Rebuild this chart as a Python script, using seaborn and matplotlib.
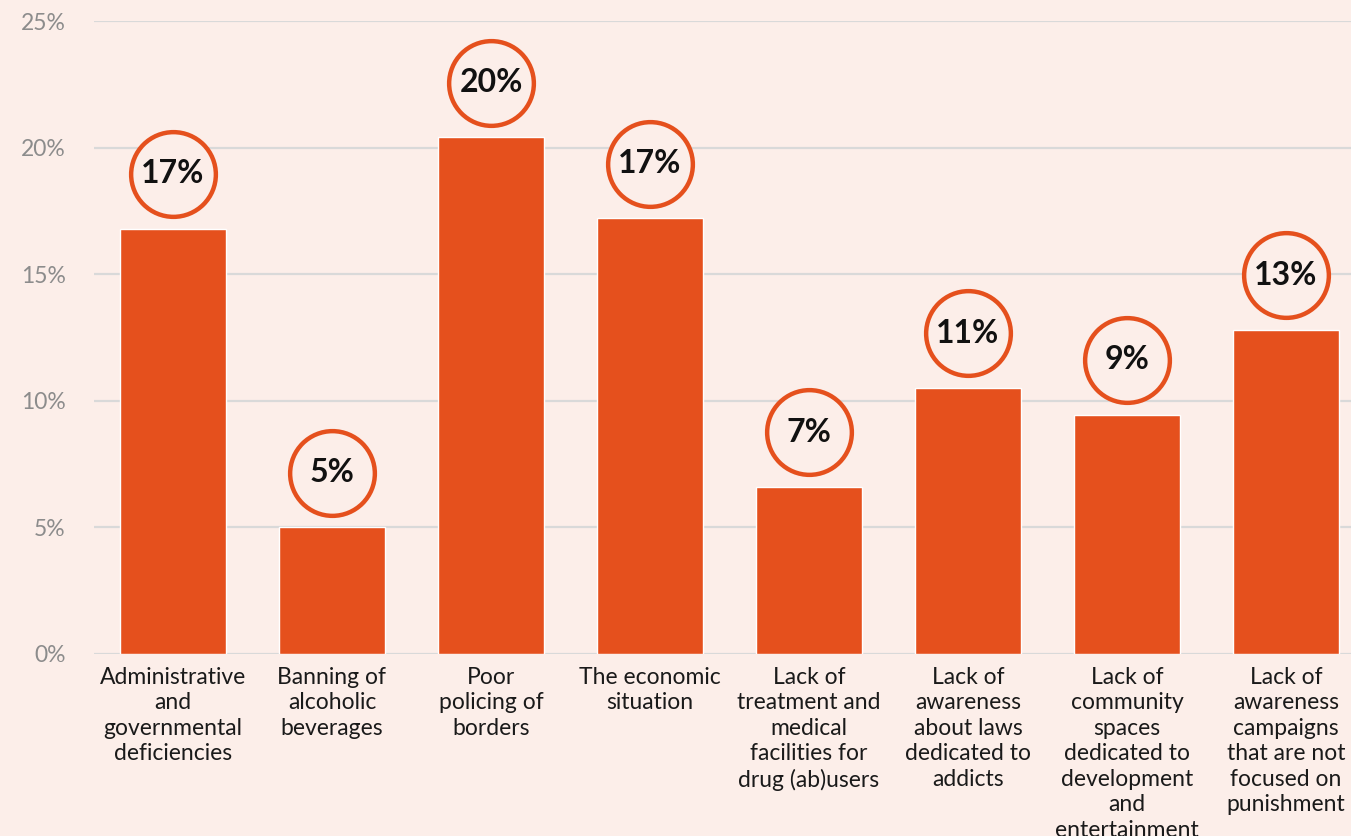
import matplotlib
matplotlib.use("Agg")
import matplotlib.pyplot as plt
import matplotlib.transforms as mtransforms
import seaborn as sns
import pandas as pd

categories = [
    "Administrative\nand\ngovernmental\ndeficiencies",
    "Banning of\nalcoholic\nbeverages",
    "Poor\npolicing of\nborders",
    "The economic\nsituation",
    "Lack of\ntreatment and\nmedical\nfacilities for\ndrug (ab)users",
    "Lack of\nawareness\nabout laws\ndedicated to\naddicts",
    "Lack of\ncommunity\nspaces\ndedicated to\ndevelopment\nand\nentertainment",
    "Lack of\nawareness\ncampaigns\nthat are not\nfocused on\npunishment",
]
values = [16.8, 5.0, 20.4, 17.2, 6.6, 10.5, 9.45, 12.8]
labels = ["17%", "5%", "20%", "17%", "7%", "11%", "9%", "13%"]
yticks = [0, 5, 10, 15, 20, 25]
ytick_labels = ["0%", "5%", "10%", "15%", "20%", "25%"]

BG = "#FCEEE9"
BAR = "#E5501D"

sns.set_theme(style="white")
plt.rcParams["font.family"] = ["Lato", "DejaVu Sans"]

fig = plt.figure(figsize=(13.51, 8.36), dpi=100, facecolor=BG)
ax = fig.add_axes([93.5 / 1351, 1 - 654 / 836, 1 - 93.5 / 1351, (654 - 21) / 836])
ax.set_facecolor(BG)

df = pd.DataFrame({"cat": categories, "val": values})
sns.barplot(data=df, x="cat", y="val", color=BAR, width=0.67, saturation=1,
            ax=ax, zorder=3)

ax.set_xlim(-0.5, 7.409)
ax.set_ylim(0, 25)
ax.set_yticks(yticks)
ax.set_yticklabels(ytick_labels, color="#8C8C8C", fontsize=16.5)
ax.tick_params(axis="y", length=0, pad=20)
ax.tick_params(axis="x", length=0, pad=9)
for t in ax.get_xticklabels():
    t.set_fontsize(16.5)
    t.set_color("#1a1a1a")
    t.set_linespacing(1.27)
ax.set_xlabel("")
ax.set_ylabel("")
ax.grid(axis="y", color="#D9D9D9", linewidth=1.6, zorder=0)
ax.grid(axis="x", visible=False)
for s in ax.spines.values():
    s.set_visible(False)

off = mtransforms.offset_copy(ax.transData, fig=fig, x=0, y=39.5, units="points")
xs = list(range(len(values)))
ax.scatter(xs, values, s=61 ** 2, facecolor=BG, edgecolor=BAR, linewidth=3.2,
           transform=off, zorder=4, clip_on=False)
for x, v, lab in zip(xs, values, labels):
    ax.text(x, v, lab, transform=off, ha="center", va="center",
            fontsize=23, fontweight="bold", color="#111111", zorder=5)

fig.savefig("out.png", dpi=100, facecolor=BG)
